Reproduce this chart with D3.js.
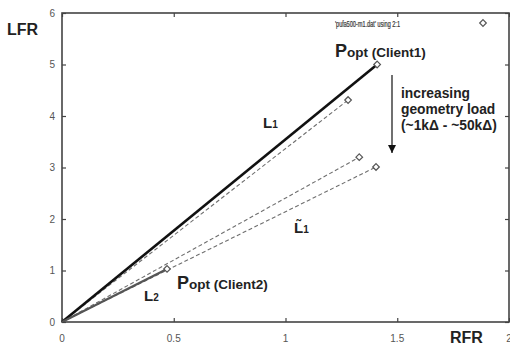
<!DOCTYPE html>
<html>
<head>
<meta charset="utf-8">
<script src="https://cdn.jsdelivr.net/npm/d3@7"></script>
<style>
  html, body { margin: 0; padding: 0; background: #fff; }
  svg { display: block; font-family: "Liberation Sans", Arial, Helvetica, sans-serif; }
</style>
</head>
<body>
<svg id="chart" width="510" height="347"></svg>
<script>
// Ray endpoints (RFR, LFR) for each client / load level
const rayNames = ["L1", "load-a", "load-b", "load-c", "L2"];
const rayRFR = [1.41, 1.28, 1.33, 1.405, 0.47];
const rayLFR = [5.0, 4.31, 3.2, 3.01, 1.03];
const rayStyle = ["solid", "dashed", "dashed", "dashed", "solidGray"];

const xTicks = [0, 0.5, 1, 1.5, 2];
const xTickLabels = ["0", "0.5", "1", "1.5", "2"];
const yTicks = [0, 1, 2, 3, 4, 5, 6];
const yTickLabels = ["0", "1", "2", "3", "4", "5", "6"];

const svg = d3.select("#chart");
const plotL = 62, plotR = 509, plotT = 13, plotB = 322;

const x = d3.scaleLinear().domain([0, 2]).range([plotL, plotR]);
const y = d3.scaleLinear().domain([0, 6]).range([plotB, plotT]);

const axisColor = "#444";
const labelColor = "#555";

// ticks (inward on all four sides)
const tk = 4;
const bottomAxis = d3.axisBottom(x).tickValues(xTicks).tickSize(-tk).tickFormat("");
const topAxis = d3.axisTop(x).tickValues(xTicks).tickSize(-tk).tickFormat("");
const leftAxis = d3.axisLeft(y).tickValues(yTicks).tickSize(-tk).tickFormat("");
const rightAxis = d3.axisRight(y).tickValues(yTicks).tickSize(-tk).tickFormat("");

[[bottomAxis, `translate(0,${plotB})`], [topAxis, `translate(0,${plotT})`],
 [leftAxis, `translate(${plotL},0)`], [rightAxis, `translate(${plotR},0)`]].forEach(([ax, tr]) => {
  const g = svg.append("g").attr("transform", tr).call(ax);
  g.select(".domain").remove();
  g.selectAll(".tick line").attr("stroke", axisColor).attr("stroke-width", 1.2);
});

// frame
svg.append("rect")
  .attr("x", plotL).attr("y", plotT)
  .attr("width", plotR - plotL).attr("height", plotB - plotT)
  .attr("fill", "none").attr("stroke", axisColor).attr("stroke-width", 1.6);

// tick labels
svg.append("g").selectAll("text").data(xTicks).join("text")
  .attr("x", d => x(d)).attr("y", 342)
  .attr("text-anchor", "middle")
  .attr("font-size", 10).attr("fill", labelColor)
  .text((d, i) => xTickLabels[i]);

svg.append("g").selectAll("text").data(yTicks).join("text")
  .attr("x", 55).attr("y", d => y(d) + 3.5)
  .attr("text-anchor", "end")
  .attr("font-size", 10).attr("fill", labelColor)
  .text((d, i) => yTickLabels[i]);

// axis titles
svg.append("text").attr("x", 7).attr("y", 35)
  .attr("font-size", 16).attr("font-weight", "bold").attr("fill", "#222").text("LFR");
svg.append("text").attr("x", 450).attr("y", 343)
  .attr("font-size", 16).attr("font-weight", "bold").attr("fill", "#222").text("RFR");

// rays from the origin
const rays = rayNames.map((n, i) => ({ name: n, rx: rayRFR[i], ly: rayLFR[i], style: rayStyle[i] }));
const line = d3.line().x(d => x(d[0])).y(d => y(d[1]));

// dashed first, solid on top
const order = rays.filter(r => r.style === "dashed").concat(rays.filter(r => r.style !== "dashed"));
svg.append("g").selectAll("path").data(order).join("path")
  .attr("d", r => line([[0, 0], [r.rx, r.ly]]))
  .attr("fill", "none")
  .attr("stroke", r => r.style === "solid" ? "#111" : (r.style === "solidGray" ? "#555" : "#6f6f6f"))
  .attr("stroke-width", r => r.style === "dashed" ? 1.1 : (r.style === "solid" ? 2.6 : 2.2))
  .attr("stroke-dasharray", r => r.style === "dashed" ? "4,2.5" : null);

// point markers (diamonds)
const diamond = d3.symbol().type(d3.symbolDiamond2).size(28);
svg.append("g").selectAll("path").data(rays).join("path")
  .attr("transform", r => `translate(${x(r.rx)},${y(r.ly)})`)
  .attr("d", diamond)
  .attr("fill", "#fff").attr("stroke", "#555").attr("stroke-width", 1.2);

// key (two overprinted titles, squeezed to the key width)
["'pufa500-m1.dat' using 2:1", "'puls600-m1.dat' using 2:1"].forEach((s, i) => {
  svg.append("text").attr("x", 335).attr("y", 27)
    .attr("font-size", 9).attr("fill", "#444").attr("opacity", i ? 0.7 : 1)
    .attr("textLength", 65).attr("lengthAdjust", "spacingAndGlyphs")
    .text(s);
});
svg.append("path").attr("transform", "translate(483,23)").attr("d", diamond)
  .attr("fill", "#fff").attr("stroke", "#555").attr("stroke-width", 1.2);

// annotations
function pLabel(px, py, sub) {
  const t = svg.append("text").attr("x", px).attr("y", py)
    .attr("font-weight", "bold").attr("fill", "#222");
  t.append("tspan").attr("font-size", 18).text("P");
  t.append("tspan").attr("font-size", 13.5).text(sub);
}
pLabel(335, 57, "opt (Client1)");
pLabel(177, 289, "opt (Client2)");

function lLabel(px, py, main, sub) {
  const t = svg.append("text").attr("x", px).attr("y", py)
    .attr("font-weight", "bold").attr("fill", "#222");
  t.append("tspan").attr("font-size", 15).text(main);
  t.append("tspan").attr("font-size", 10).text(sub);
}
lLabel(263, 128, "L", "1");
lLabel(144, 301, "L", "2");
lLabel(294, 233, "L\u0303", "1");

// arrow for increasing load
svg.append("defs").append("marker")
  .attr("id", "ah").attr("viewBox", "0 0 10 10").attr("refX", 10).attr("refY", 5)
  .attr("markerWidth", 8).attr("markerHeight", 8).attr("markerUnits", "userSpaceOnUse")
  .attr("orient", "auto")
  .append("path").attr("d", "M0,0 L10,5 L0,10 Z").attr("fill", "#111");
svg.append("line").attr("x1", 392).attr("y1", 75).attr("x2", 392).attr("y2", 153)
  .attr("stroke", "#111").attr("stroke-width", 1.2).attr("marker-end", "url(#ah)");

const lines = ["increasing", "geometry load", "(~1kΔ - ~50kΔ)"];
svg.append("g").selectAll("text").data(lines).join("text")
  .attr("x", 401).attr("y", (d, i) => 98 + i * 16)
  .attr("font-size", 13.8).attr("font-weight", "bold").attr("fill", "#222")
  .text(d => d);
</script>
</body>
</html>
